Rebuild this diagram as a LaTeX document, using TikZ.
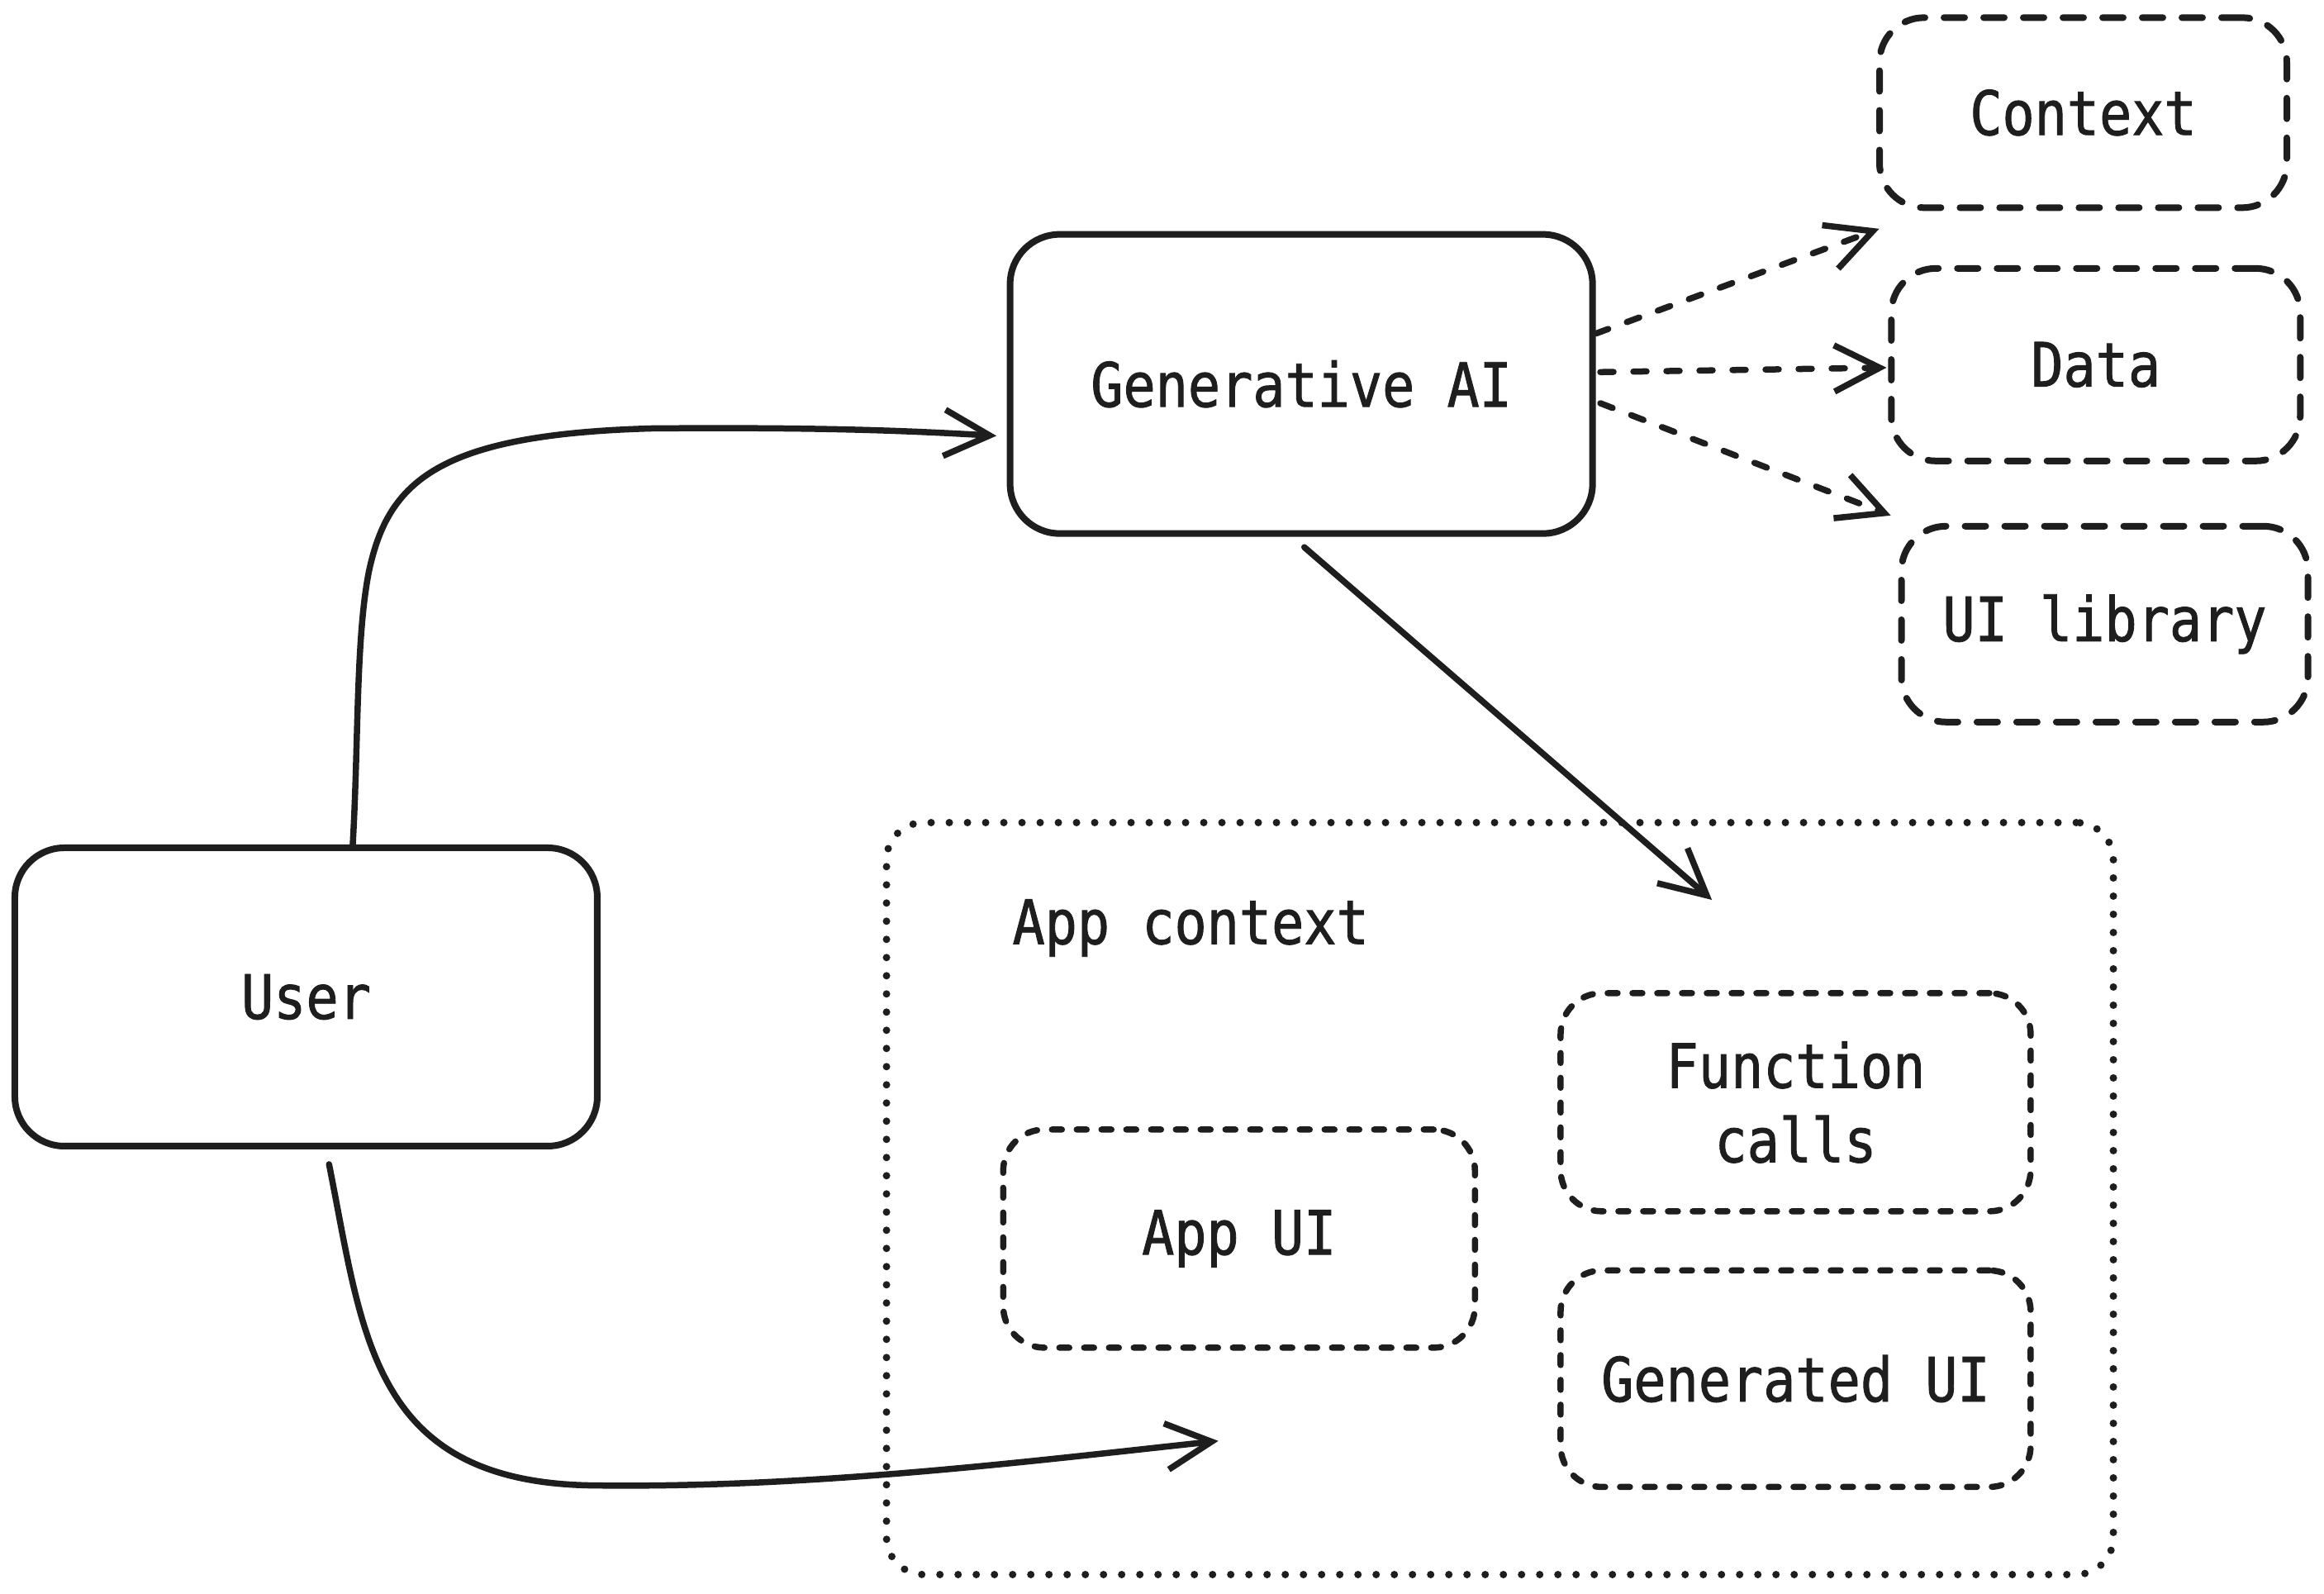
\documentclass[tikz,border=0pt]{standalone}
\usepackage{fontspec}
\setmonofont[FakeStretch=0.88,FakeBold=1.2]{DejaVu Sans Mono}
\usetikzlibrary{arrows.meta,calc}
\definecolor{ink}{HTML}{1E1E1E}
\begin{document}
\begin{tikzpicture}[x=1.794pt,y=-1.794pt,
  every node/.style={text=ink, font=\ttfamily\fontsize{74}{90}\selectfont},
  solidbox/.style={draw=ink, line width=8pt, rounded corners=60pt, inner sep=0pt},
  dashbox/.style={draw=ink, line width=8pt, rounded corners=54pt, inner sep=0pt,
    line cap=round, dash pattern=on 25pt off 23pt},
  smalldash/.style={draw=ink, line width=7.5pt, rounded corners=50pt, inner sep=0pt,
    line cap=round, dash pattern=on 12pt off 18pt, align=center},
  dotbox/.style={draw=ink, line width=9pt, rounded corners=45pt, inner sep=0pt,
    line cap=round, dash pattern=on 0pt off 22pt},
  tip/.style={-{Straight Barb[length=55pt,width=56pt]}},
  flow/.style={draw=ink, line width=7.5pt, line cap=round, tip},
  dflow/.style={draw=ink, line width=7.5pt, line cap=round, dash pattern=on 16pt off 24pt, tip}
]
\fill[white] (0,0) rectangle (1568,1075);
\useasboundingbox (0,0) rectangle (1568,1075);

% boxes
\node[solidbox, minimum width=705pt, minimum height=362pt] (gen) at (878,259) {Generative AI};
\node[dashbox, minimum width=493pt, minimum height=230pt] (ctx) at (1405.5,76) {Context};
\node[dashbox, minimum width=495pt, minimum height=233pt] (data) at (1414,246) {Data};
\node[dashbox, minimum width=492pt, minimum height=237pt] (uilib) at (1420,421) {UI library};
\node[solidbox, minimum width=705pt, minimum height=361pt] (user) at (206.5,672.5) {User};
\node[dotbox, minimum width=1485pt, minimum height=910pt] (appctx) at (1012,808.5) {};
\node[anchor=west, inner sep=0pt] (appctxlabel) at (683,626) {App context};
\node[smalldash, minimum width=569pt, minimum height=264pt] (fcalls) at (1211.5,743.5) {Function\\calls};
\node[smalldash, minimum width=569pt, minimum height=262pt] (genui) at (1211.5,930) {Generated UI};
\node[smalldash, minimum width=571pt, minimum height=264pt] (appui) at (836,835.5) {App UI};

% free ends inside the app context
\coordinate (uientry) at (822,972);
\coordinate (ctxentry) at (1155,607);

% user -> generative AI
\draw[flow] ($(user.north)+(31.5,0)$) .. controls (242,500) and (240,430) .. (249,385)
  .. controls (262,325) and (295,293) .. (440,289)
  .. controls (560,288) and (620,291) .. ($(gen.west)+(-7,35)$);
% user -> app context
\draw[flow] ($(user.south)+(15.5,10)$) .. controls (245,900) and (250,1000) .. (400,1002)
  .. controls (550,1004) and (700,985) .. (uientry);
% generative AI -> app context
\draw[flow] ($(gen.south)+(2,7)$) -- (ctxentry);

% generative AI -> sources
\draw[dflow] ($(gen.east)+(0,-34)$) -- ($(ctx.south west)+(2,12)$);
\draw[dflow] ($(gen.east)+(3,-8)$) -- ($(data.west)+(-1,2)$);
\draw[dflow] ($(gen.east)+(3,13)$) -- ($(uilib.north west)+(-5,-5)$);
\end{tikzpicture}
\end{document}
